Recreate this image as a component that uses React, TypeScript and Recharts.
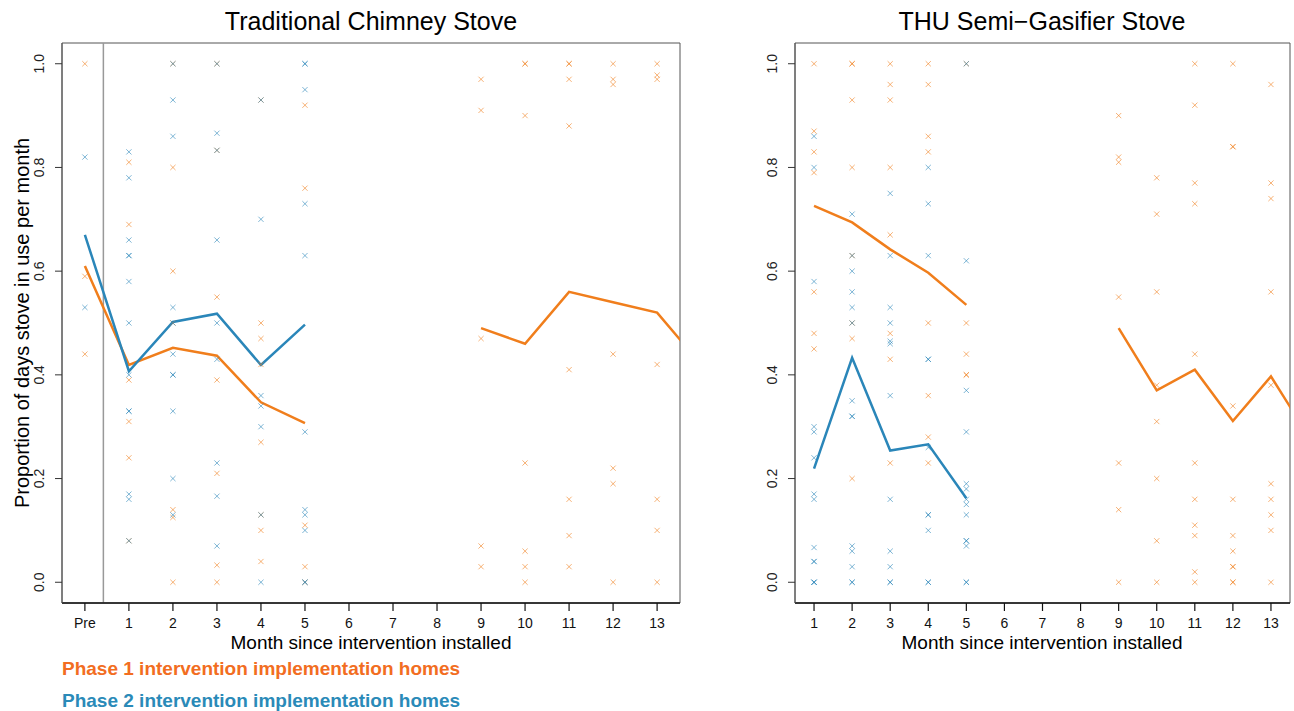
import React from "react";
import { ComposedChart, Scatter, Line, XAxis, YAxis, ReferenceLine, ReferenceArea } from "recharts";

const FONT = "'Liberation Sans', Arial, Helvetica, sans-serif";
const ORANGE = "#f07e1c";
const BLUE = "#2a86b9";

// Traditional Chimney Stove (month 0 = "Pre")
const tcsMonths = [0, 1, 2, 3, 4, 5, 9, 10, 11, 12, 13];
const tcsPhase1Points = [
  [1.0, 0.59, 0.44],
  [0.81, 0.69, 0.39, 0.31, 0.24, 0.08],
  [1.0, 0.8, 0.6, 0.5, 0.14, 0.125, 0.0],
  [1.0, 0.833, 0.55, 0.39, 0.21, 0.033, 0.0],
  [0.93, 0.5, 0.47, 0.42, 0.27, 0.13, 0.1, 0.04],
  [0.92, 0.76, 0.11, 0.03, 0.0],
  [0.97, 0.91, 0.47, 0.07, 0.03],
  [1.0, 1.0, 0.9, 0.23, 0.06, 0.03, 0.0],
  [1.0, 1.0, 0.97, 0.88, 0.41, 0.16, 0.09, 0.03],
  [1.0, 0.97, 0.96, 0.44, 0.22, 0.19, 0.0],
  [1.0, 0.978, 0.97, 0.42, 0.16, 0.1, 0.0],
];
const tcsPhase2Months = [0, 1, 2, 3, 4, 5];
const tcsPhase2Points = [
  [0.82, 0.53],
  [0.83, 0.78, 0.66, 0.63, 0.63, 0.58, 0.5, 0.4, 0.33, 0.33, 0.17, 0.16, 0.08],
  [1.0, 0.93, 0.86, 0.53, 0.5, 0.44, 0.4, 0.4, 0.33, 0.2, 0.13],
  [1.0, 0.866, 0.833, 0.66, 0.5, 0.43, 0.23, 0.166, 0.07],
  [0.93, 0.7, 0.36, 0.34, 0.3, 0.13, 0.0],
  [1.0, 1.0, 0.95, 0.73, 0.63, 0.29, 0.14, 0.13, 0.1, 0.0, 0.0],
];
const tcsLineMonths = [0, 1, 2, 3, 4, 5, 6, 7, 8, 9, 10, 11, 12, 13, 14];
const tcsPhase1Mean = [0.61, 0.419, 0.452, 0.437, 0.347, 0.307, null, null, null, 0.49, 0.46, 0.56, 0.54, 0.52, 0.42];
const tcsPhase2Mean = [0.67, 0.407, 0.502, 0.518, 0.419, 0.497];

// THU Semi-Gasifier Stove
const thuMonths = [1, 2, 3, 4, 5, 9, 10, 11, 12, 13];
const thuPhase1Points = [
  [1.0, 0.87, 0.83, 0.79, 0.56, 0.48, 0.45],
  [1.0, 1.0, 0.93, 0.8, 0.63, 0.5, 0.47, 0.2],
  [1.0, 0.96, 0.93, 0.8, 0.67, 0.48, 0.43, 0.23],
  [1.0, 0.96, 0.86, 0.83, 0.5, 0.36, 0.28, 0.23],
  [1.0, 0.5, 0.44, 0.4, 0.4],
  [0.9, 0.82, 0.81, 0.55, 0.23, 0.14, 0.0],
  [0.78, 0.71, 0.56, 0.38, 0.31, 0.2, 0.08, 0.0],
  [1.0, 0.92, 0.77, 0.73, 0.44, 0.23, 0.16, 0.11, 0.09, 0.02, 0.0],
  [1.0, 0.84, 0.84, 0.34, 0.16, 0.09, 0.06, 0.03, 0.03, 0.0, 0.0],
  [0.96, 0.77, 0.74, 0.56, 0.38, 0.19, 0.16, 0.13, 0.1, 0.0],
];
const thuPhase2Months = [1, 2, 3, 4, 5];
const thuPhase2Points = [
  [0.86, 0.8, 0.58, 0.3, 0.29, 0.24, 0.17, 0.16, 0.067, 0.04, 0.04, 0.0, 0.0, 0.0],
  [0.71, 0.63, 0.6, 0.56, 0.53, 0.5, 0.35, 0.32, 0.32, 0.07, 0.06, 0.03, 0.0, 0.0],
  [0.75, 0.63, 0.53, 0.5, 0.465, 0.46, 0.36, 0.16, 0.06, 0.03, 0.0, 0.0],
  [0.8, 0.73, 0.63, 0.43, 0.43, 0.26, 0.13, 0.13, 0.1, 0.0, 0.0],
  [1.0, 0.62, 0.37, 0.29, 0.19, 0.18, 0.16, 0.15, 0.13, 0.08, 0.08, 0.07, 0.0, 0.0],
];
const thuLineMonths = [1, 2, 3, 4, 5, 6, 7, 8, 9, 10, 11, 12, 13, 14];
const thuPhase1Mean = [0.726, 0.694, 0.642, 0.597, 0.535, null, null, null, 0.49, 0.37, 0.41, 0.311, 0.397, 0.28];
const thuPhase2Mean = [0.219, 0.433, 0.254, 0.266, 0.162];

const yTicks = [0, 0.2, 0.4, 0.6, 0.8, 1.0];
const tcsTicks = [0, 1, 2, 3, 4, 5, 6, 7, 8, 9, 10, 11, 12, 13];
const thuTicks = [1, 2, 3, 4, 5, 6, 7, 8, 9, 10, 11, 12, 13];

const toPoints = (months: number[], vals: number[][]) =>
  months.flatMap((m, i) => vals[i].map((v) => ({ month: m, value: v })));
const toLine = (months: number[], vals: (number | null)[]) =>
  vals.map((v, i) => ({ month: months[i], value: v }));

const Cross = (props: any) => {
  const { cx, cy, fill } = props;
  if (cx == null || cy == null) return null;
  const r = 2.6;
  return (
    <path
      d={`M${cx - r},${cy - r}L${cx + r},${cy + r}M${cx - r},${cy + r}L${cx + r},${cy - r}`}
      stroke={fill}
      strokeWidth={1}
      strokeOpacity={0.6}
      fill="none"
    />
  );
};

const YTick = (props: any) => {
  const { x, y, payload } = props;
  const tx = x - 9;
  return (
    <text x={tx} y={y} transform={`rotate(-90 ${tx} ${y})`} textAnchor="middle" fontSize={14} fontFamily={FONT} fill="#222">
      {Number(payload.value).toFixed(1)}
    </text>
  );
};

const makeXTick = (pre: boolean) => (props: any) => {
  const { x, y, payload } = props;
  const label = pre && payload.value === 0 ? "Pre" : String(payload.value);
  return (
    <text x={x} y={y + 15} textAnchor="middle" fontSize={14} fontFamily={FONT} fill="#111">
      {label}
    </text>
  );
};

type PanelProps = {
  left: number;
  width: number;
  yAxisWidth: number;
  marginRight: number;
  domain: [number, number];
  ticks: number[];
  pre: boolean;
  p1: { month: number; value: number }[];
  p2: { month: number; value: number }[];
  l1: { month: number; value: number | null }[];
  l2: { month: number; value: number | null }[];
  cut?: number;
};

function Panel(p: PanelProps) {
  return (
    <div style={{ position: "absolute", left: p.left, top: 0 }}>
      <ComposedChart width={p.width} height={711} margin={{ top: 43, right: p.marginRight, bottom: 78, left: 0 }}>
        <XAxis
          type="number"
          dataKey="month"
          domain={p.domain}
          allowDataOverflow
          ticks={p.ticks}
          interval={0}
          height={30}
          tickSize={8}
          tickMargin={2}
          axisLine={{ stroke: "#111", strokeWidth: 1.5 }}
          tickLine={{ stroke: "#111", strokeWidth: 1.2 }}
          tick={makeXTick(p.pre)}
        />
        <YAxis
          type="number"
          dataKey="value"
          domain={[-0.04, 1.04]}
          allowDataOverflow
          ticks={yTicks}
          width={p.yAxisWidth}
          tickSize={7}
          tickMargin={2}
          axisLine={{ stroke: "#555" }}
          tickLine={{ stroke: "#333" }}
          tick={<YTick />}
        />
        <ReferenceArea x1={p.domain[0]} x2={p.domain[1]} y1={-0.04} y2={1.04} fill="none" stroke="#555" strokeWidth={1} />
        {p.cut != null && <ReferenceLine x={p.cut} stroke="#999" strokeWidth={1.5} />}
        <Scatter data={p.p1} fill={ORANGE} shape={<Cross />} isAnimationActive={false} />
        <Scatter data={p.p2} fill={BLUE} shape={<Cross />} isAnimationActive={false} />
        <Line data={p.l1} dataKey="value" stroke={ORANGE} strokeWidth={2.5} dot={false} connectNulls={false} isAnimationActive={false} />
        <Line data={p.l2} dataKey="value" stroke={BLUE} strokeWidth={2.5} dot={false} connectNulls={false} isAnimationActive={false} />
      </ComposedChart>
    </div>
  );
}

export default function App() {
  return (
    <div style={{ position: "absolute", left: 0, top: 0, width: 1294, height: 711, background: "#fff", fontFamily: FONT }}>
      <Panel
        left={0}
        width={700}
        yAxisWidth={62}
        marginRight={20}
        domain={[-0.52, 13.52]}
        ticks={tcsTicks}
        pre
        p1={toPoints(tcsMonths, tcsPhase1Points)}
        p2={toPoints(tcsPhase2Months, tcsPhase2Points)}
        l1={toLine(tcsLineMonths, tcsPhase1Mean)}
        l2={toLine(tcsLineMonths.slice(0, tcsPhase2Mean.length), tcsPhase2Mean)}
        cut={0.42}
      />
      <Panel
        left={740}
        width={554}
        yAxisWidth={55}
        marginRight={4}
        domain={[0.5, 13.5]}
        ticks={thuTicks}
        pre={false}
        p1={toPoints(thuMonths, thuPhase1Points)}
        p2={toPoints(thuPhase2Months, thuPhase2Points)}
        l1={toLine(thuLineMonths, thuPhase1Mean)}
        l2={toLine(thuLineMonths.slice(0, thuPhase2Mean.length), thuPhase2Mean)}
      />
      <svg width={1294} height={711} style={{ position: "absolute", left: 0, top: 0, pointerEvents: "none" }}>
        <text x={371} y={30} textAnchor="middle" fontSize={25} fontFamily={FONT} fill="#000">Traditional Chimney Stove</text>
        <text x={1042} y={30} textAnchor="middle" fontSize={25} fontFamily={FONT} fill="#000">THU Semi−Gasifier Stove</text>
        <text x={29} y={323} transform="rotate(-90 29 323)" textAnchor="middle" fontSize={20} fontFamily={FONT} fill="#000">
          Proportion of days stove in use per month
        </text>
        <text x={371} y={649} textAnchor="middle" fontSize={19} fontFamily={FONT} fill="#000">Month since intervention installed</text>
        <text x={1042} y={649} textAnchor="middle" fontSize={19} fontFamily={FONT} fill="#000">Month since intervention installed</text>
        <text x={62} y={675} fontSize={19} fontWeight="bold" fontFamily={FONT} fill="#f26d21">Phase 1 intervention implementation homes</text>
        <text x={62} y={707} fontSize={19} fontWeight="bold" fontFamily={FONT} fill="#2a8ab8">Phase 2 intervention implementation homes</text>
      </svg>
    </div>
  );
}
